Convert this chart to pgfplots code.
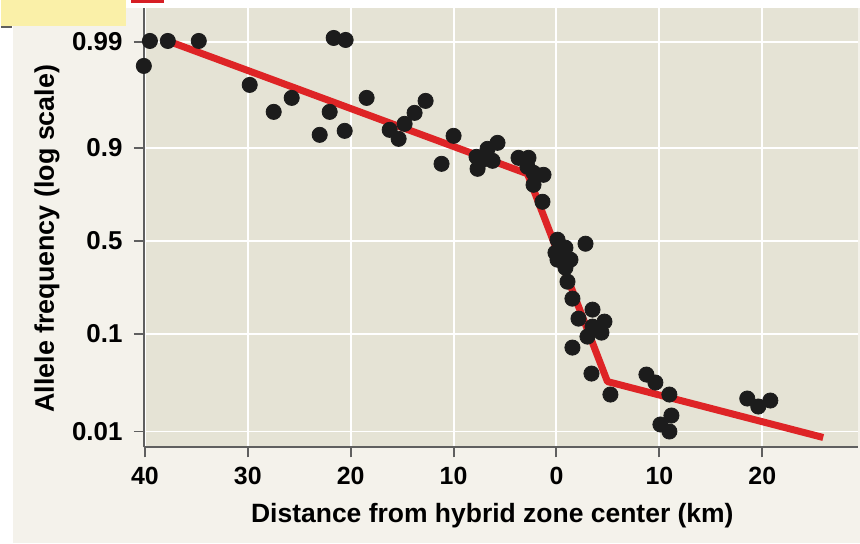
\documentclass[border=0pt]{standalone}
\usepackage{fontspec}
\setmainfont{Liberation Sans}
\usepackage{pgfplots}
\pgfplotsset{compat=1.18}
\definecolor{plotbg}{RGB}{229,227,213}
\definecolor{panel}{RGB}{244,242,235}
\definecolor{fitred}{RGB}{222,36,38}
\definecolor{dot}{RGB}{28,28,28}
\definecolor{axisgray}{RGB}{95,95,95}
\definecolor{tabyellow}{RGB}{250,240,168}
\definecolor{tabred}{RGB}{214,30,36}

% y is a transformed (logit-like) scale: tick positions carry the labels
\pgfplotstableread{
x y
-40.10 3.82
-39.51 4.07
-37.77 4.07
-34.76 4.07
-29.81 3.63
-27.48 3.36
-25.73 3.50
-23.01 3.13
-22.04 3.36
-21.65 4.10
-20.49 4.08
-20.58 3.17
-18.45 3.50
-16.21 3.18
-15.34 3.09
-14.76 3.24
-13.79 3.35
-12.72 3.47
-10.00 3.12
-11.17 2.84
-7.77 2.91
-7.67 2.79
-6.70 2.99
-6.21 2.87
-5.73 3.05
-7.18 2.88
-3.69 2.90
-2.72 2.90
-2.82 2.81
-2.23 2.75
-1.26 2.73
-2.23 2.63
-1.36 2.46
0.10 2.08
0.87 2.00
-0.10 1.95
0.10 1.88
1.36 1.88
0.87 1.80
2.82 2.04
1.07 1.66
1.55 1.49
2.14 1.29
3.50 1.38
4.66 1.26
3.01 1.11
4.37 1.15
3.50 1.21
1.55 1.00
3.40 0.74
5.24 0.53
8.74 0.73
9.61 0.65
10.97 0.53
11.17 0.32
10.10 0.23
10.97 0.16
18.54 0.49
19.61 0.41
20.78 0.47
}\points

\begin{document}
\begin{tikzpicture}
\fill[white] (-71.5bp,-48bp) rectangle (358.5bp,224bp);
\fill[panel] (-65.5bp,-48bp) rectangle (358.5bp,220bp);
\fill[tabyellow] (-71.5bp,211bp) rectangle (-9bp,224bp);
\fill[tabred] (-6.5bp,222.5bp) rectangle (10bp,224bp);
\draw[axisgray, line width=1bp] (-71.5bp,210.5bp) -- (-66bp,210.5bp);
\begin{axis}[
  scale only axis, width=357.5bp, height=220bp,
  xmin=-40.1, xmax=29.3, ymin=0, ymax=4.4,
  clip=false,
  axis x line*=bottom, axis y line*=left,
  axis background/.style={fill=plotbg},
  axis line style={draw=axisgray, line width=1bp, -},
  tick style={draw=axisgray, line width=1bp},
  tick align=outside, major tick length=5bp,
  grid=major, grid style={white, line width=1bp},
  xtick={-40,-30,-20,-10,0,10,20},
  xticklabels={40,30,20,10,0,10,20},
  ytick={0.16,1.14,2.07,3.00,4.06},
  yticklabels={0.01,0.1,0.5,0.9,0.99},
  xticklabel style={font=\bfseries\fontsize{12.5}{14}\selectfont, inner sep=0pt, anchor=north, yshift=-4.5bp},
  yticklabel style={font=\bfseries\fontsize{13}{15}\selectfont, inner sep=0pt, anchor=east, xshift=-5.5bp},
  xlabel={Distance from hybrid zone center (km)},
  ylabel={Allele frequency (log scale)},
  every axis x label/.style={at={(rel axis cs:0.488,0)}, yshift=-37.5bp, anchor=base,
    font=\bfseries\fontsize{13.3}{15}\selectfont},
  every axis y label/.style={at={(rel axis cs:0,0.475)}, xshift=-45bp, anchor=base, rotate=90,
    font=\bfseries\fontsize{13.5}{15}\selectfont},
]
\addplot[fitred, line width=3.5bp, line join=round] coordinates
  {(-37.77,4.07) (-2.82,2.74) (4.95,0.66) (25.92,0.10)};
\addplot[only marks, mark=*, mark size=3.8bp, mark options={draw=dot, fill=dot}] table {\points};
\end{axis}
\end{tikzpicture}
\end{document}
